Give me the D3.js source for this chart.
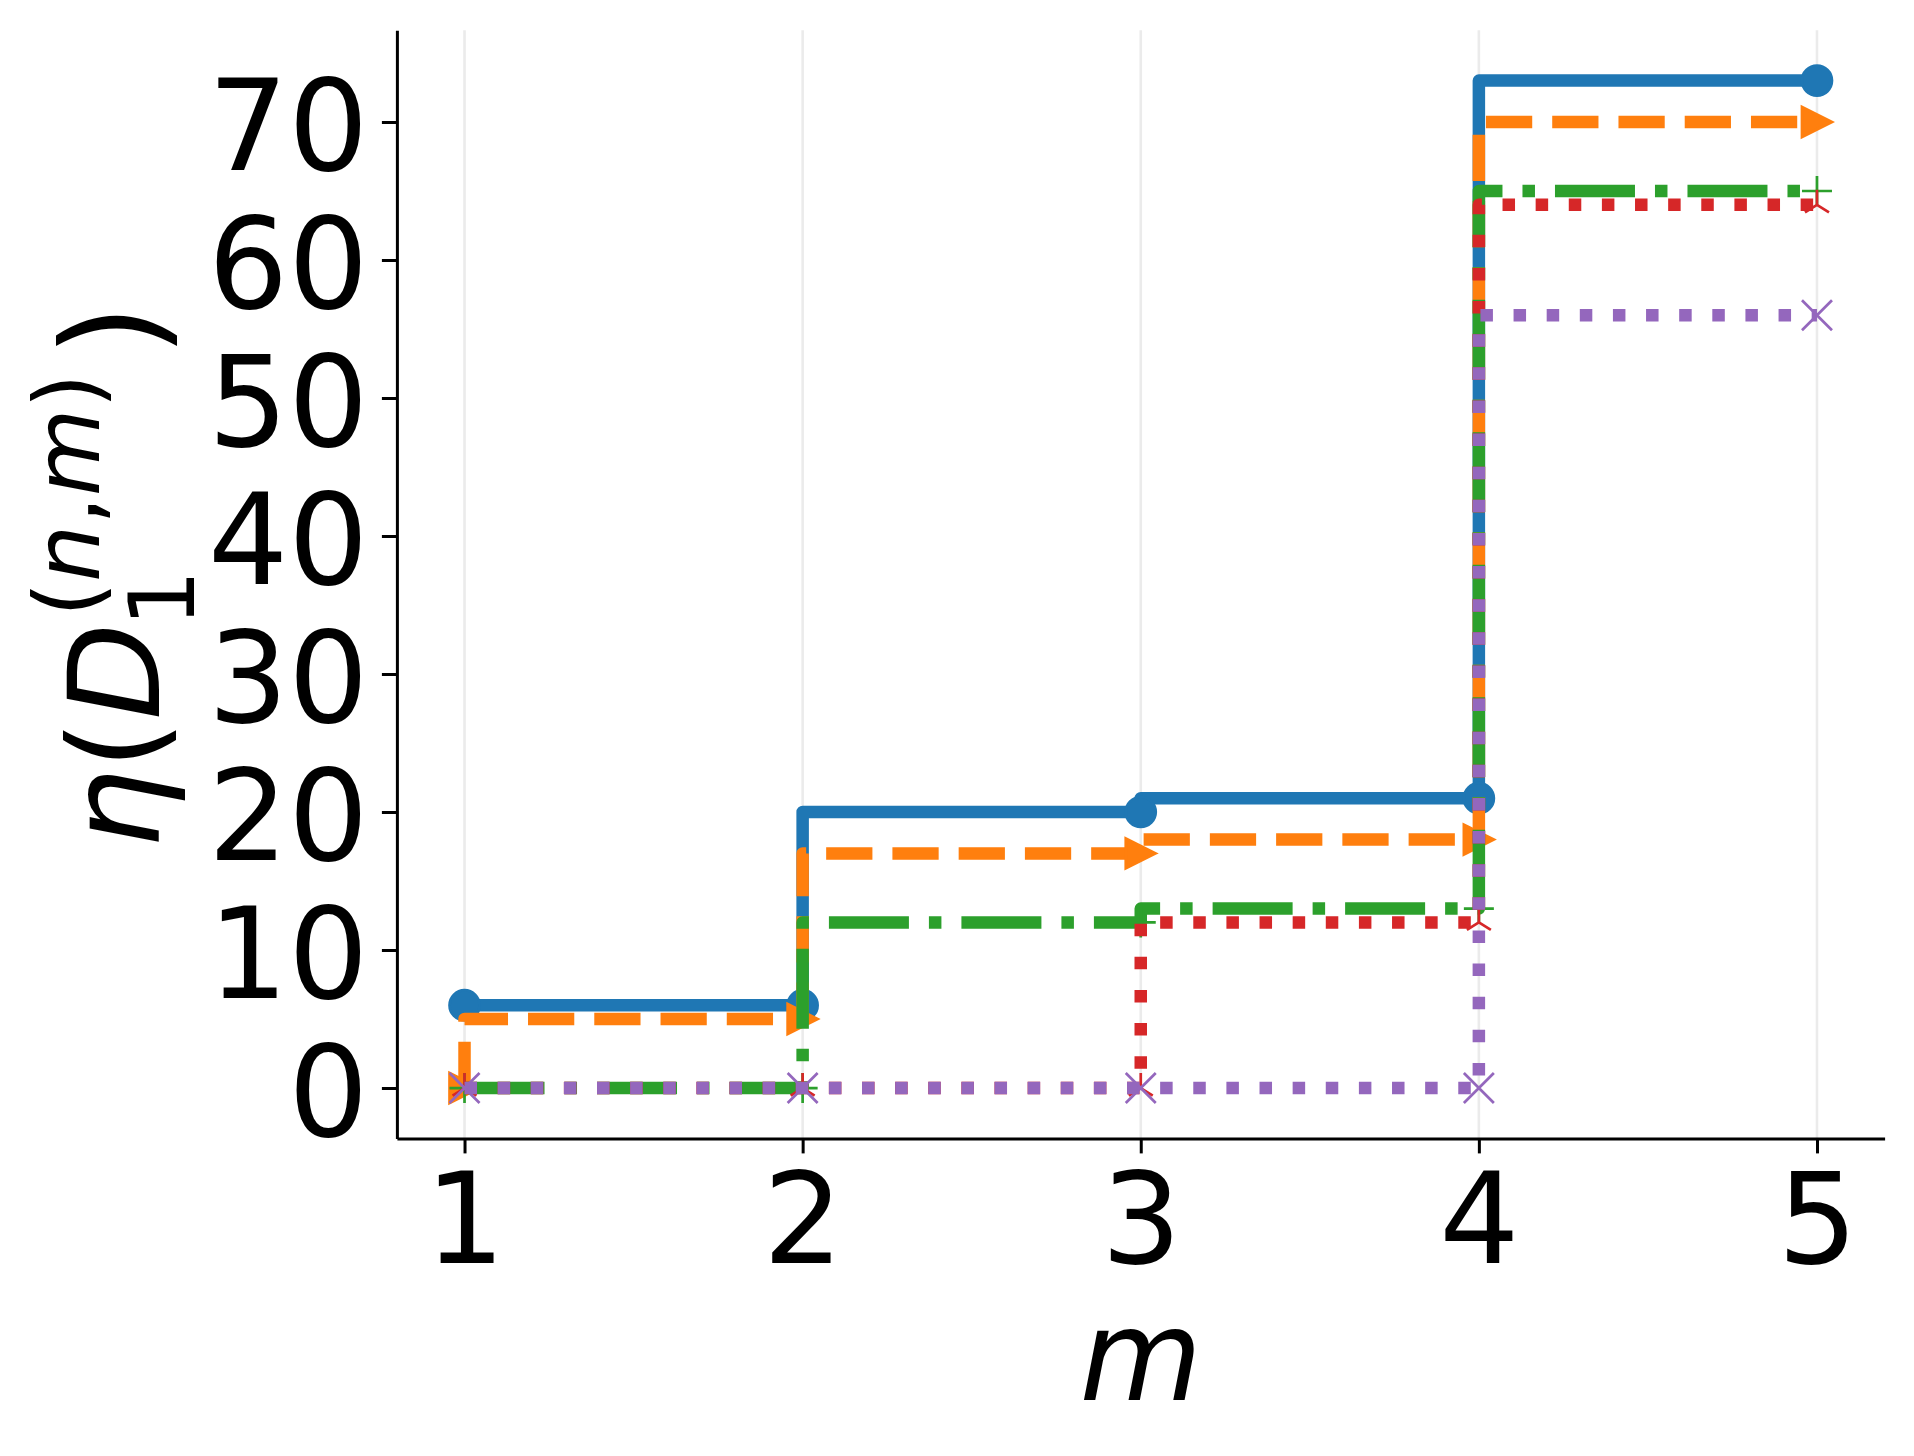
<!DOCTYPE html>
<html>
<head>
<meta charset="utf-8">
<script src="https://cdn.jsdelivr.net/npm/d3@7"></script>
<style>
  html, body { margin: 0; padding: 0; background: #ffffff; }
  svg { display: block; }
</style>
</head>
<body>
<script>
// ---- data ----
const mValues = [1, 2, 3, 4, 5];
const blueVals = [6, 6, 20, 21, 73];
const orangeVals = [0, 5, 17, 18, 70];
const greenVals = [0, 0, 12, 13, 65];
const redVals = [0, 0, 0, 12, 64];
const purpleVals = [0, 0, 0, 0, 56];
const xTickValues = [1, 2, 3, 4, 5];
const yTickValues = [0, 10, 20, 30, 40, 50, 60, 70];

const W = 1914, H = 1456;
const FONT = "'DejaVu Sans', sans-serif";
const FS = 126;
const LW = 12.5;

const svg = d3.select("body").append("svg")
  .attr("width", W).attr("height", H)
  .style("background", "#ffffff");

// margins as matplotlib: 5% of data span
const xMin = 1 - 0.05 * 4, xMax = 5 + 0.05 * 4;
const yMin = 0 - 0.05 * 73, yMax = 73 + 0.05 * 73;
const x = d3.scaleLinear().domain([xMin, xMax]).range([396.9, 1884.6]);
const y = d3.scaleLinear().domain([yMin, yMax]).range([1138.4, 30.2]);

// grid (vertical only)
svg.append("g").selectAll("line").data(xTickValues).join("line")
  .attr("x1", d => x(d)).attr("x2", d => x(d))
  .attr("y1", y(yMax)).attr("y2", y(yMin))
  .attr("stroke", "#ebebeb").attr("stroke-width", 2.6);

const series = [
  { vals: blueVals, color: "#1f77b4", dash: null, marker: "circle" },
  { vals: orangeVals, color: "#ff7f0e", dash: [3.7 * LW, 1.6 * LW], marker: "triright" },
  { vals: greenVals, color: "#2ca02c", dash: [6.4 * LW, 1.6 * LW, 1 * LW, 1.6 * LW], marker: "plus" },
  { vals: redVals, color: "#d62728", dash: [1 * LW, 1.65 * LW], marker: "triup" },
  { vals: purpleVals, color: "#9467bd", dash: [1 * LW, 1.65 * LW], marker: "x" }
];

const line = d3.line()
  .x(d => x(d[0])).y(d => y(d[1]))
  .curve(d3.curveStepBefore);

const ms = 30, hs = ms / 2, mew = 2.7;
const markerPaths = {
  triright: `M${hs},0 L${-hs},${hs} L${-hs},${-hs} Z`,
  plus: `M${-hs},0 H${hs} M0,${-hs} V${hs}`,
  triup: `M0,0 V${-hs} M0,0 L${0.8 * hs},${0.5 * hs} M0,0 L${-0.8 * hs},${0.5 * hs}`,
  x: `M${-hs},${-hs} L${hs},${hs} M${-hs},${hs} L${hs},${-hs}`
};

series.forEach(s => {
  const pts = mValues.map((m, i) => [m, s.vals[i]]);
  const g = svg.append("g");
  g.append("path")
    .attr("d", line(pts))
    .attr("fill", "none")
    .attr("stroke", s.color)
    .attr("stroke-width", LW)
    .attr("stroke-linejoin", "round")
    .attr("stroke-linecap", s.dash ? "butt" : "square")
    .attr("stroke-dasharray", s.dash ? s.dash.join(",") : null);
  const mk = g.selectAll(".mk").data(pts).join(s.marker === "circle" ? "circle" : "path");
  if (s.marker === "circle") {
    mk.attr("cx", d => x(d[0])).attr("cy", d => y(d[1])).attr("r", hs)
      .attr("fill", s.color).attr("stroke", s.color).attr("stroke-width", mew);
  } else {
    const filled = s.marker === "triright";
    mk.attr("d", markerPaths[s.marker])
      .attr("transform", d => `translate(${x(d[0])},${y(d[1])})`)
      .attr("fill", filled ? s.color : "none")
      .attr("stroke", s.color).attr("stroke-width", mew)
      .attr("stroke-linejoin", "miter");
  }
});

// axes
const xAxis = d3.axisBottom(x).tickValues(xTickValues).tickSize(15).tickSizeOuter(0).tickFormat(d3.format("d"));
const yAxis = d3.axisLeft(y).tickValues(yTickValues).tickSize(15).tickSizeOuter(0).tickFormat(d3.format("d"));

const gx = svg.append("g").attr("transform", `translate(0,${y(yMin)})`).call(xAxis);
const gy = svg.append("g").attr("transform", `translate(${x(xMin)},0)`).call(yAxis);

[gx, gy].forEach(g => {
  g.select(".domain").attr("stroke", "#000").attr("stroke-width", 3);
  g.selectAll(".tick line").attr("stroke", "#000").attr("stroke-width", 3);
  g.selectAll(".tick text")
    .attr("fill", "#000")
    .style("font-family", FONT)
    .style("font-size", FS + "px");
});
gx.selectAll(".tick text").attr("y", 124.6).attr("dy", 0);
gy.selectAll(".tick text").attr("x", -28.6).attr("dy", "0.38em");

// x label
svg.append("text")
  .attr("x", (x(xMin) + x(xMax)) / 2)
  .attr("y", 1400)
  .attr("text-anchor", "middle")
  .style("font-family", FONT)
  .style("font-size", FS + "px")
  .style("font-style", "italic")
  .text("m");

// y label: η(D_1^{(n,m)})
const yl = svg.append("text")
  .attr("transform", "translate(159,849) rotate(-90)")
  .style("font-family", FONT)
  .style("font-size", FS + "px")
  .attr("fill", "#000");
yl.append("tspan").style("font-style", "italic").text("η");
yl.append("tspan").text("(");
yl.append("tspan").style("font-style", "italic").text("D");
const SS = 90;
yl.append("tspan").attr("x", 222).attr("y", 35).style("font-size", SS + "px").text("1");
yl.append("tspan").attr("x", 232).attr("y", -60).style("font-size", SS + "px").text("(");
yl.append("tspan").style("font-size", SS + "px").style("font-style", "italic").text("n");
yl.append("tspan").style("font-size", SS + "px").text(",");
yl.append("tspan").style("font-size", SS + "px").style("font-style", "italic").text("m");
yl.append("tspan").style("font-size", SS + "px").text(")");
yl.append("tspan").attr("x", 492).attr("y", 0).style("font-size", "136px").text(")");
</script>
</body>
</html>
